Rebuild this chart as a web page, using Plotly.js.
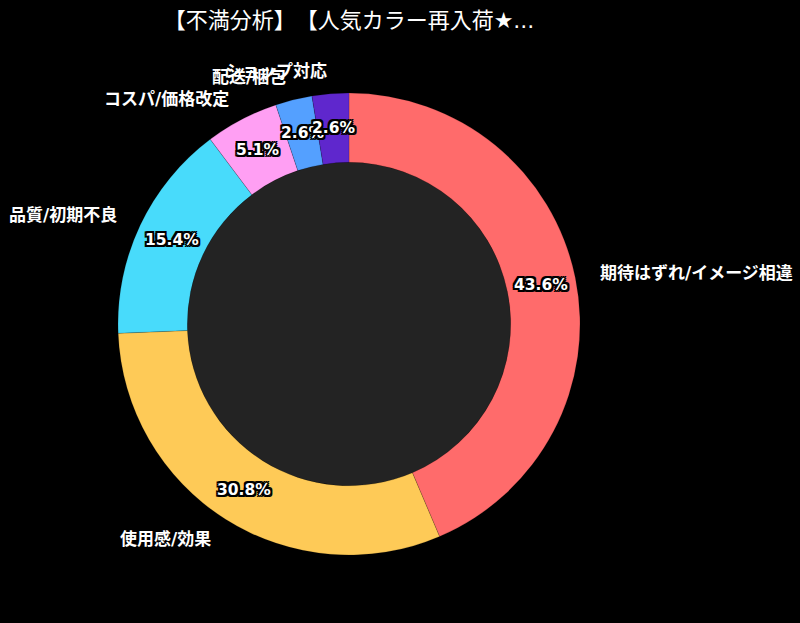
<!DOCTYPE html>
<html>
<head>
<meta charset="utf-8">
<script src="https://cdn.plot.ly/plotly-3.0.1.min.js"></script>
<style>
  html, body { margin: 0; padding: 0; background: #000; }
  #myDiv { width: 800px; height: 623px; }
  #myDiv text { text-spacing-trim: space-all; }
</style>
</head>
<body>
<div id="myDiv"></div>
<script>
// complaint categories, counts (n = 39) and slice colours
var categories = ["期待はずれ/イメージ相違", "使用感/効果", "品質/初期不良", "コスパ/価格改定", "配送/梱包", "ショップ対応"];
var counts     = [17, 12, 6, 2, 1, 1];
var colors     = ["#FF6B6B", "#FECA57", "#48DBFB", "#FF9FF3", "#54A0FF", "#5F27CD"];

var chartTitle = "【不満分析】【人気カラー再入荷★...";
var fontFam    = "'DejaVu Sans', 'Noto Sans CJK JP', sans-serif";
var holeSize   = 0.70;

var total = counts.reduce((a, b) => a + b, 0);

var pie = {
    type: 'pie',
    labels: categories,
    values: counts,
    sort: false,
    direction: 'clockwise',
    rotation: 0,
    hole: holeSize,
    textinfo: 'none',
    hoverinfo: 'label+percent',
    marker: { colors: colors, line: { color: 'rgba(0,0,0,0.3)', width: 0.5 } },
    showlegend: false,
    domain: { x: [0, 1], y: [0, 1] }
};

// place labels around the ring: percent in the ring, name just outside
var outline = "-2px -2px 0 #000, 2px -2px 0 #000, -2px 2px 0 #000, 2px 2px 0 #000, 0 2px 0 #000, 0 -2px 0 #000, 2px 0 0 #000, -2px 0 0 #000";
var annotations = [];
var cum = 0;
for (let i = 0; i < counts.length; i++) {
    var mid = (cum + counts[i] / 2) / total * 2 * Math.PI;
    cum += counts[i];
    var sx = Math.sin(mid), cy = Math.cos(mid);
    var rIn = (1 + holeSize) / 2;
    annotations.push({
        xref: 'paper', yref: 'paper',
        x: 0.5 + 0.5 * rIn * sx, y: 0.5 + 0.5 * rIn * cy,
        text: (counts[i] / total * 100).toFixed(1) + '%',
        showarrow: false, xanchor: 'center', yanchor: 'middle',
        font: { family: fontFam, size: 15.5, color: '#ffffff', weight: 'bold', shadow: outline }
    });
    annotations.push({
        xref: 'paper', yref: 'paper',
        x: 0.5 + 0.5 * 1.1 * sx, y: 0.5 + 0.5 * 1.1 * cy,
        text: categories[i],
        showarrow: false, xanchor: sx >= 0 ? 'left' : 'right', yanchor: 'middle',
        font: { family: fontFam, size: 17, color: '#ffffff', weight: 'bold' }
    });
}

var layout = {
    width: 800,
    height: 623,
    margin: { l: 118, r: 220, t: 93, b: 68 },
    paper_bgcolor: '#000000',
    plot_bgcolor: '#000000',
    title: {
        text: chartTitle,
        font: { family: fontFam, size: 22, color: '#ffffff' },
        x: 0.5, xref: 'paper',
        y: 1 - 20 / 623, yref: 'container', yanchor: 'middle'
    },
    shapes: [{
        type: 'circle', xref: 'paper', yref: 'paper', layer: 'below',
        x0: 0.5 - 0.5 * holeSize, x1: 0.5 + 0.5 * holeSize,
        y0: 0.5 - 0.5 * holeSize, y1: 0.5 + 0.5 * holeSize,
        fillcolor: '#232323', line: { width: 0 }
    }],
    annotations: annotations
};

Plotly.newPlot('myDiv', [pie], layout, { displayModeBar: false });
</script>
</body>
</html>
